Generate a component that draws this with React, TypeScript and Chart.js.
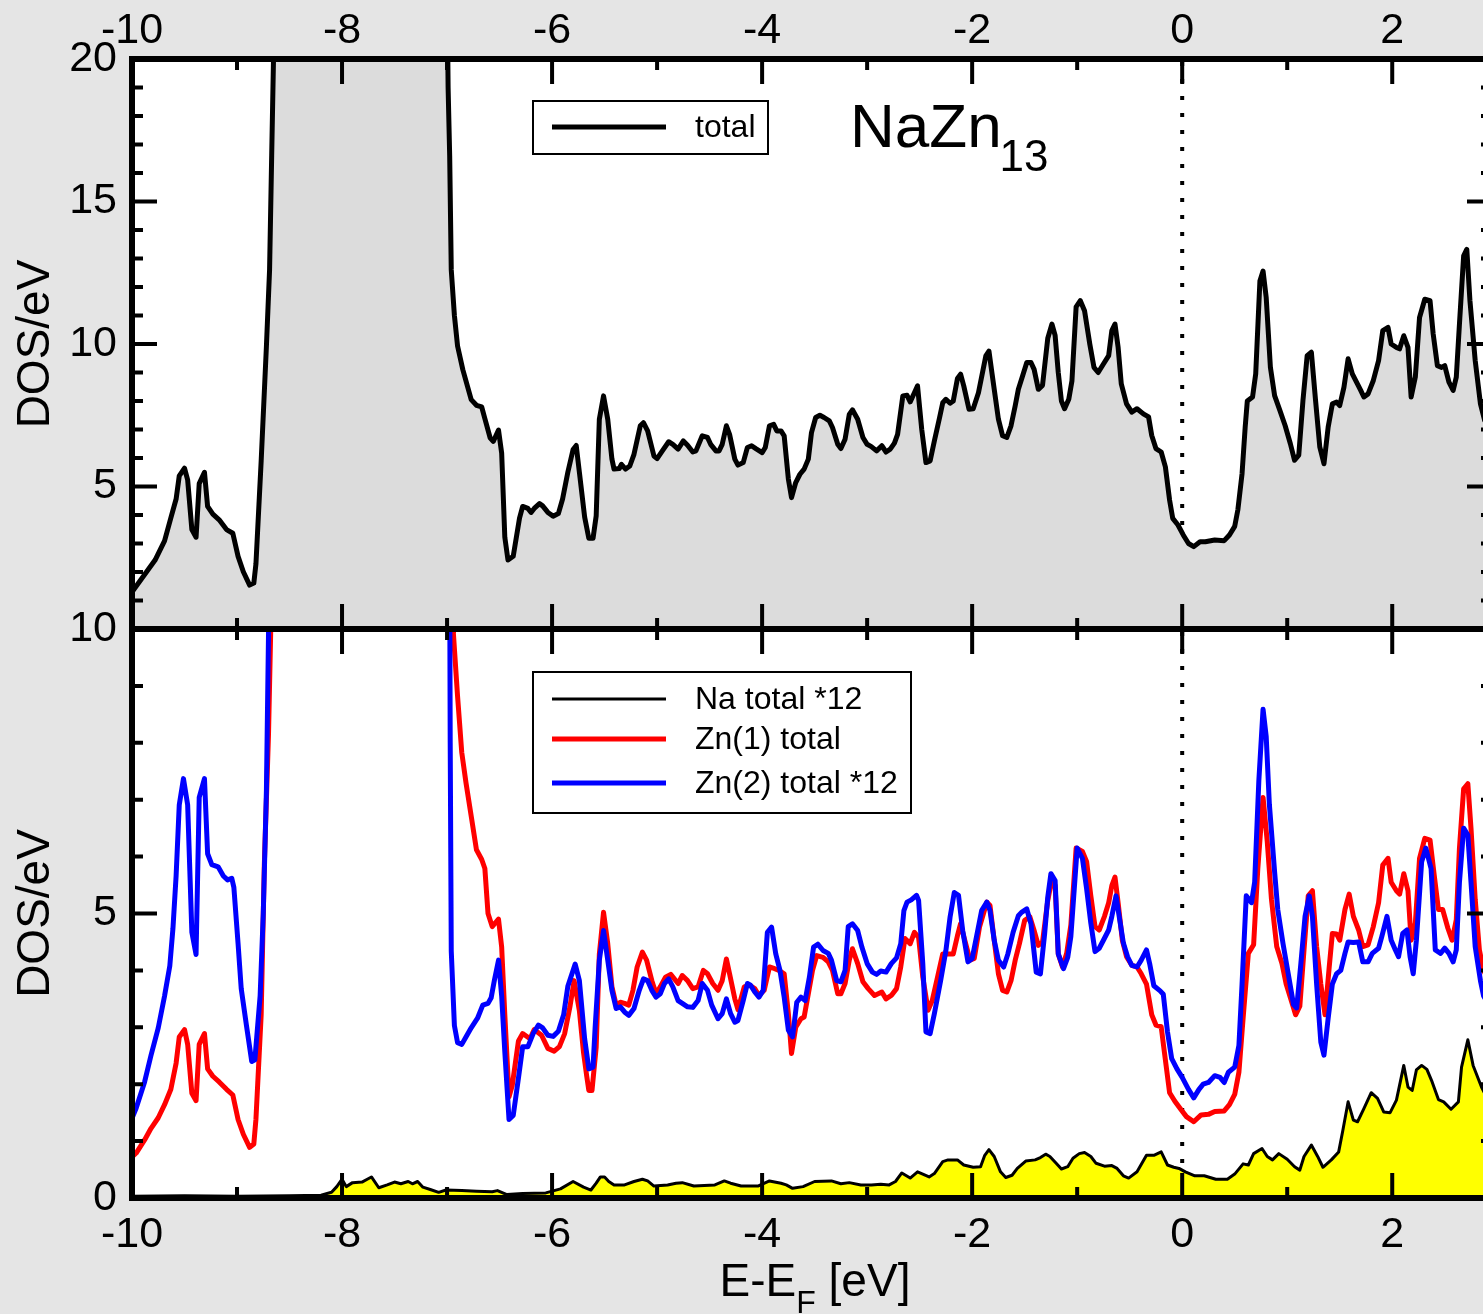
import { useEffect, useRef } from 'react';
import { Chart, registerables } from 'chart.js';

Chart.register(...registerables);

// ---------------- data ----------------
const X_MIN = -10;
const X_MAX = 2.95;
const X_STEP = 2;
const TOP_Y_MAX = 20;
const BOT_Y_MAX = 10;
const Y_STEP = 5;

const Y_TITLE = 'DOS/eV';
const SYSTEM_NAME = 'NaZn';
const SYSTEM_SUB = '13';
const X_TITLE_MAIN = 'E-E';
const X_TITLE_SUB = 'F';
const X_TITLE_UNIT = ' [eV]';

const TOTAL_LABEL = 'total';
const NA_LABEL = 'Na total *12';
const ZN1_LABEL = 'Zn(1) total';
const ZN2_LABEL = 'Zn(2) total *12';

const totalE = [
  -10, -9.78, -9.69, -9.63, -9.58, -9.55, -9.5, -9.47, -9.43, -9.39,
  -9.36, -9.31, -9.28, -9.23, -9.17, -9.1, -9.04, -8.99, -8.94, -8.88,
  -8.84, -8.82, -8.77, -8.72, -8.69, -8.67, -8.65, -8.6, -8.2, -7.8,
  -7.4, -7.02, -6.99, -6.975, -6.96, -6.93, -6.9, -6.85, -6.77, -6.72,
  -6.67, -6.64, -6.59, -6.56, -6.51, -6.48, -6.45, -6.42, -6.37, -6.31,
  -6.28, -6.23, -6.2, -6.17, -6.12, -6.09, -6.04, -5.99, -5.94, -5.9,
  -5.85, -5.8, -5.77, -5.74, -5.69, -5.65, -5.61, -5.58, -5.55, -5.51,
  -5.47, -5.43, -5.41, -5.36, -5.34, -5.3, -5.26, -5.22, -5.16, -5.13,
  -5.09, -5.03, -5, -4.95, -4.89, -4.85, -4.8, -4.75, -4.71, -4.66,
  -4.63, -4.57, -4.52, -4.49, -4.44, -4.41, -4.38, -4.34, -4.31, -4.26,
  -4.23, -4.18, -4.14, -4.1, -4.06, -4, -3.97, -3.93, -3.89, -3.86,
  -3.82, -3.79, -3.75, -3.72, -3.68, -3.64, -3.6, -3.56, -3.53, -3.49,
  -3.45, -3.41, -3.36, -3.33, -3.28, -3.25, -3.21, -3.17, -3.14, -3.09,
  -3.04, -3, -2.96, -2.91, -2.86, -2.82, -2.78, -2.74, -2.71, -2.66,
  -2.62, -2.59, -2.55, -2.52, -2.48, -2.44, -2.4, -2.36, -2.31, -2.28,
  -2.25, -2.21, -2.18, -2.14, -2.11, -2.08, -2.03, -1.99, -1.94, -1.87,
  -1.84, -1.81, -1.75, -1.71, -1.67, -1.63, -1.59, -1.56, -1.52, -1.48,
  -1.44, -1.41, -1.37, -1.33, -1.28, -1.24, -1.21, -1.18, -1.15, -1.12,
  -1.08, -1.05, -1.01, -0.97, -0.93, -0.88, -0.84, -0.8, -0.75, -0.7,
  -0.67, -0.64, -0.61, -0.58, -0.53, -0.48, -0.43, -0.37, -0.32, -0.29,
  -0.25, -0.2, -0.16, -0.12, -0.09, -0.04, 0.01, 0.06, 0.11, 0.17,
  0.22, 0.31, 0.4, 0.45, 0.5, 0.53, 0.57, 0.6, 0.62, 0.67,
  0.7, 0.74, 0.77, 0.8, 0.84, 0.88, 0.93, 0.98, 1.03, 1.07,
  1.11, 1.15, 1.19, 1.23, 1.27, 1.31, 1.35, 1.39, 1.43, 1.47,
  1.5, 1.54, 1.58, 1.62, 1.66, 1.7, 1.73, 1.77, 1.82, 1.87,
  1.91, 1.96, 1.99, 2.04, 2.07, 2.11, 2.15, 2.18, 2.22, 2.26,
  2.31, 2.36, 2.39, 2.43, 2.47, 2.5, 2.54, 2.58, 2.61, 2.64,
  2.68, 2.71, 2.74, 2.79, 2.84, 2.88, 2.95,
];
const totalDos = [
  1.3, 2.42, 3.09, 3.9, 4.56, 5.37, 5.64, 5.23, 3.49, 3.22,
  5.1, 5.5, 4.3, 4.03, 3.83, 3.49, 3.36, 2.55, 2.01, 1.54,
  1.61, 2.28, 5.9, 9.93, 12.6, 16.6, 20.5, 45, 90, 120,
  90, 30, 19, 16.6, 12.6, 11, 9.93, 9.1, 8.05, 7.85,
  7.79, 7.38, 6.71, 6.58, 6.98, 6.17, 3.22, 2.42, 2.55, 3.89,
  4.3, 4.23, 4.09, 4.23, 4.4, 4.32, 4.09, 3.96, 4.05, 4.56,
  5.5, 6.3, 6.44, 5.5, 3.93, 3.18, 3.18, 3.97, 7.36, 8.18,
  7.36, 5.96, 5.61, 5.63, 5.78, 5.61, 5.72, 6.13, 7.13, 7.24,
  6.95, 6.07, 5.98, 6.25, 6.57, 6.48, 6.31, 6.6, 6.45, 6.21,
  6.25, 6.78, 6.72, 6.48, 6.25, 6.25, 6.48, 7.13, 6.83, 5.96,
  5.75, 5.84, 6.37, 6.43, 6.33, 6.19, 6.37, 7.13, 7.18, 6.95,
  6.95, 6.78, 5.26, 4.61, 5.14, 5.43, 5.61, 5.96, 6.89, 7.42,
  7.5, 7.42, 7.3, 7.07, 6.48, 6.33, 6.66, 7.53, 7.69, 7.36,
  6.72, 6.48, 6.4, 6.25, 6.43, 6.21, 6.31, 6.52, 6.83, 8.18,
  8.2, 7.97, 8.29, 8.53, 7.0, 5.84, 5.9, 6.6, 7.42, 7.94,
  8.06, 7.92, 8.0, 8.79, 8.94, 8.53, 7.71, 7.73, 8.29, 9.58,
  9.75, 8.94, 7.36, 6.78, 6.72, 7.13, 7.83, 8.41, 8.88, 9.35,
  9.35, 9.11, 8.41, 8.55, 10.2, 10.7, 10.3, 9.0, 8.0, 7.73,
  8.06, 8.7, 11.3, 11.52, 11.17, 10.0, 9.18, 9.0, 9.3, 9.59,
  10.47, 10.7, 9.88, 8.6, 7.9, 7.61, 7.73, 7.55, 7.44, 6.79,
  6.33, 6.21, 5.69, 4.52, 3.88, 3.65, 3.3, 3.0, 2.89, 3.06,
  3.06, 3.12, 3.1, 3.3, 3.6, 4.18, 5.45, 7.09, 8.0, 8.14,
  8.95, 12.21, 12.56, 11.63, 9.18, 8.19, 7.67, 7.14, 6.5, 5.92,
  6.1, 8.02, 9.59, 9.71, 8.02, 6.39, 5.8, 7.09, 7.9, 7.96,
  7.84, 8.48, 9.48, 8.95, 8.66, 8.37, 8.14, 8.25, 8.72, 9.42,
  10.47, 10.58, 10.0, 9.88, 9.83, 10.29, 9.88, 8.14, 8.84, 10.93,
  11.57, 11.52, 10.35, 9.24, 9.18, 9.24, 8.66, 8.37, 8.84, 10.7,
  13.09, 13.32, 11.52, 9.42, 7.9, 7.32, 7.0,
];

const naE = [
  -10, -9.5, -9, -8.5, -8.2, -8.1, -8.05, -8, -7.96, -7.9,
  -7.81, -7.76, -7.72, -7.65, -7.57, -7.5, -7.44, -7.37, -7.33, -7.28,
  -7.23, -7.16, -7.08, -7.01, -6.86, -6.72, -6.57, -6.52, -6.43, -6.28,
  -6.06, -5.92, -5.8, -5.7, -5.63, -5.58, -5.54, -5.5, -5.46, -5.41,
  -5.31, -5.22, -5.14, -5.09, -5.03, -4.9, -4.82, -4.76, -4.65, -4.45,
  -4.36, -4.3, -4.2, -4.04, -3.93, -3.82, -3.77, -3.71, -3.61, -3.5,
  -3.34, -3.25, -3.17, -3.06, -2.96, -2.87, -2.79, -2.73, -2.67, -2.59,
  -2.52, -2.47, -2.41, -2.36, -2.28, -2.23, -2.14, -2.08, -1.99, -1.92,
  -1.88, -1.84, -1.79, -1.73, -1.68, -1.62, -1.57, -1.49, -1.4, -1.35,
  -1.3, -1.26, -1.2, -1.15, -1.09, -1.04, -0.98, -0.93, -0.87, -0.82,
  -0.74, -0.67, -0.62, -0.56, -0.51, -0.43, -0.34, -0.27, -0.2, -0.14,
  -0.08, -0.03, 0.03, 0.12, 0.21, 0.32, 0.43, 0.5, 0.58, 0.63,
  0.68, 0.76, 0.81, 0.86, 0.92, 1, 1.07, 1.12, 1.16, 1.23,
  1.29, 1.34, 1.42, 1.49, 1.53, 1.58, 1.63, 1.67, 1.73, 1.8,
  1.86, 1.92, 1.98, 2.04, 2.11, 2.15, 2.19, 2.23, 2.28, 2.33,
  2.38, 2.44, 2.49, 2.56, 2.63, 2.66, 2.72, 2.77, 2.85, 2.88, 2.95,
];
const naDos = [
  0.03, 0.04, 0.03, 0.04, 0.05, 0.1, 0.2, 0.33, 0.2, 0.27,
  0.28, 0.33, 0.37, 0.18, 0.23, 0.28, 0.25, 0.29, 0.25, 0.29,
  0.19, 0.15, 0.1, 0.14, 0.13, 0.12, 0.11, 0.13, 0.06, 0.08,
  0.09, 0.16, 0.29, 0.19, 0.14, 0.26, 0.37, 0.37, 0.29, 0.23,
  0.23, 0.29, 0.33, 0.3, 0.21, 0.23, 0.26, 0.27, 0.21, 0.23,
  0.3, 0.26, 0.21, 0.21, 0.3, 0.26, 0.23, 0.17, 0.2, 0.29,
  0.3, 0.25, 0.27, 0.23, 0.23, 0.24, 0.23, 0.29, 0.44, 0.35,
  0.46, 0.42, 0.37, 0.43, 0.64, 0.67, 0.67, 0.58, 0.54, 0.55,
  0.75, 0.85, 0.73, 0.46, 0.36, 0.4, 0.52, 0.65, 0.67, 0.71,
  0.77, 0.73, 0.61, 0.51, 0.55, 0.7, 0.78, 0.8, 0.73, 0.61,
  0.56, 0.57, 0.52, 0.39, 0.35, 0.46, 0.75, 0.75, 0.81, 0.58,
  0.54, 0.52, 0.46, 0.39, 0.39, 0.33, 0.33, 0.42, 0.6, 0.58,
  0.78, 0.87, 0.73, 0.67, 0.78, 0.68, 0.55, 0.49, 0.73, 0.93,
  0.73, 0.54, 0.67, 0.81, 1.19, 1.69, 1.37, 1.34, 1.57, 1.85,
  1.75, 1.51, 1.5, 1.72, 2.33, 1.95, 1.89, 2.25, 2.33, 2.26,
  2.04, 1.73, 1.69, 1.56, 1.69, 2.3, 2.78, 2.33, 1.95, 1.84, 1.6,
];

const zn1E = [
  -10, -9.96, -9.88, -9.82, -9.75, -9.69, -9.63, -9.58, -9.55, -9.5,
  -9.47, -9.43, -9.39, -9.36, -9.31, -9.28, -9.23, -9.17, -9.1, -9.04,
  -8.99, -8.94, -8.88, -8.84, -8.82, -8.77, -8.74, -8.7, -8.68, -8.65,
  -8.5, -7.8, -7.1, -6.97, -6.94, -6.9, -6.86, -6.82, -6.77, -6.72,
  -6.67, -6.64, -6.61, -6.57, -6.51, -6.48, -6.45, -6.41, -6.38, -6.32,
  -6.28, -6.21, -6.17, -6.1, -6.04, -5.98, -5.93, -5.88, -5.83, -5.79,
  -5.74, -5.7, -5.67, -5.65, -5.62, -5.58, -5.55, -5.51, -5.47, -5.43,
  -5.39, -5.35, -5.31, -5.27, -5.23, -5.19, -5.14, -5.1, -5.05, -5.01,
  -4.97, -4.92, -4.87, -4.8, -4.76, -4.71, -4.66, -4.61, -4.56, -4.52,
  -4.47, -4.42, -4.38, -4.34, -4.31, -4.26, -4.23, -4.17, -4.12, -4.07,
  -4.03, -3.98, -3.93, -3.88, -3.84, -3.79, -3.75, -3.72, -3.68, -3.63,
  -3.6, -3.56, -3.52, -3.48, -3.42, -3.37, -3.33, -3.28, -3.25, -3.21,
  -3.17, -3.14, -3.09, -3.04, -2.99, -2.93, -2.86, -2.82, -2.77, -2.72,
  -2.68, -2.64, -2.59, -2.55, -2.51, -2.47, -2.42, -2.38, -2.33, -2.28,
  -2.23, -2.18, -2.14, -2.11, -2.07, -2.02, -1.98, -1.93, -1.86, -1.83,
  -1.79, -1.75, -1.71, -1.67, -1.63, -1.59, -1.55, -1.5, -1.45, -1.41,
  -1.37, -1.33, -1.28, -1.24, -1.21, -1.18, -1.14, -1.1, -1.06, -1.01,
  -0.95, -0.91, -0.87, -0.83, -0.79, -0.74, -0.7, -0.67, -0.64, -0.61,
  -0.57, -0.53, -0.48, -0.43, -0.39, -0.34, -0.29, -0.25, -0.2, -0.17,
  -0.12, -0.07, -0.01, 0.04, 0.11, 0.18, 0.25, 0.31, 0.4, 0.45,
  0.5, 0.54, 0.58, 0.63, 0.68, 0.72, 0.77, 0.81, 0.85, 0.9,
  0.95, 0.99, 1.04, 1.08, 1.12, 1.16, 1.2, 1.24, 1.28, 1.32,
  1.36, 1.4, 1.43, 1.47, 1.5, 1.55, 1.59, 1.63, 1.68, 1.72,
  1.77, 1.82, 1.87, 1.91, 1.96, 1.99, 2.04, 2.07, 2.11, 2.15,
  2.18, 2.22, 2.26, 2.31, 2.36, 2.4, 2.44, 2.48, 2.53, 2.57,
  2.61, 2.64, 2.68, 2.72, 2.75, 2.79, 2.83, 2.87, 2.95,
];
const zn1Dos = [
  0.72, 0.79, 1.02, 1.22, 1.41, 1.64, 1.91, 2.37, 2.83, 2.96,
  2.7, 1.84, 1.71, 2.7, 2.89, 2.27, 2.14, 2.04, 1.91, 1.81,
  1.38, 1.12, 0.89, 0.95, 1.38, 3.22, 5.86, 8.16, 9.9, 13,
  25, 40, 25, 12, 9.93, 8.82, 7.83, 7.3, 6.71, 6.12,
  5.95, 5.79, 5.0, 4.77, 4.9, 4.41, 3.22, 1.78, 1.97, 2.76,
  2.89, 2.8, 2.96, 2.86, 2.63, 2.58, 2.66, 2.89, 3.36, 3.82,
  3.29, 2.55, 2.14, 1.89, 1.89, 2.65, 4.29, 5.02, 4.47, 3.71,
  3.39, 3.44, 3.42, 3.39, 3.65, 4.06, 4.32, 4.18, 3.82, 3.59,
  3.71, 3.88, 3.93, 3.77, 3.91, 3.82, 3.68, 3.71, 4.0, 3.94,
  3.77, 3.65, 3.82, 4.2, 3.94, 3.5, 3.31, 3.71, 3.74, 3.68,
  3.56, 3.65, 4.06, 4.03, 4.0, 3.94, 3.24, 2.54, 3.0, 3.15,
  3.18, 3.59, 4.0, 4.26, 4.23, 4.15, 4.0, 3.59, 3.59, 3.77,
  4.18, 4.38, 4.12, 3.8, 3.68, 3.56, 3.62, 3.5, 3.56, 3.68,
  4.06, 4.56, 4.47, 4.67, 4.58, 3.88, 3.3, 3.47, 3.88, 4.29,
  4.29, 4.29, 4.61, 4.82, 4.53, 4.18, 4.21, 4.76, 5.2, 5.14,
  4.53, 3.94, 3.65, 3.62, 3.82, 4.18, 4.47, 4.88, 4.94, 4.7,
  4.44, 4.5, 5.23, 5.61, 5.49, 4.29, 4.06, 4.3, 4.8, 6.15,
  6.09, 5.91, 5.31, 4.77, 4.71, 4.95, 5.19, 5.49, 5.64, 5.19,
  4.53, 4.24, 4.09, 4.06, 3.94, 3.76, 3.22, 3.04, 3.01, 2.57,
  1.85, 1.7, 1.55, 1.43, 1.34, 1.46, 1.47, 1.52, 1.53, 1.64,
  1.82, 2.21, 3.16, 4.3, 4.45, 5.79, 7.04, 6.26, 5.25, 4.42,
  4.12, 3.76, 3.46, 3.22, 3.37, 4.36, 5.31, 5.4, 4.42, 3.76,
  3.22, 4.06, 4.65, 4.64, 4.53, 5.07, 5.34, 4.95, 4.71, 4.42,
  4.45, 4.77, 5.19, 5.85, 5.97, 5.55, 5.4, 5.34, 5.7, 5.4,
  4.53, 4.83, 5.97, 6.32, 6.29, 5.67, 5.07, 5.07, 4.74, 4.53,
  4.89, 6.15, 7.19, 7.28, 6.5, 5.25, 4.36, 4.0, 3.7,
];

const zn2E = [
  -10, -9.96, -9.88, -9.82, -9.75, -9.69, -9.64, -9.61, -9.58, -9.55,
  -9.51, -9.47, -9.43, -9.39, -9.36, -9.31, -9.28, -9.24, -9.18, -9.13,
  -9.09, -9.05, -9.03, -8.99, -8.96, -8.91, -8.86, -8.83, -8.78, -8.75,
  -8.72, -8.7, -8.67, -8.5, -7.8, -7.1, -6.98, -6.97, -6.96, -6.93,
  -6.9, -6.86, -6.82, -6.77, -6.71, -6.66, -6.61, -6.58, -6.55, -6.51,
  -6.48, -6.45, -6.41, -6.37, -6.32, -6.28, -6.23, -6.18, -6.13, -6.09,
  -6.04, -5.99, -5.94, -5.89, -5.85, -5.78, -5.74, -5.69, -5.65, -5.61,
  -5.59, -5.55, -5.51, -5.47, -5.43, -5.39, -5.35, -5.31, -5.27, -5.22,
  -5.17, -5.13, -5.09, -5.05, -5.01, -4.97, -4.93, -4.89, -4.85, -4.8,
  -4.76, -4.71, -4.66, -4.61, -4.57, -4.52, -4.48, -4.42, -4.38, -4.34,
  -4.3, -4.26, -4.23, -4.18, -4.14, -4.11, -4.07, -4.03, -3.99, -3.95,
  -3.91, -3.87, -3.83, -3.79, -3.75, -3.71, -3.67, -3.63, -3.59, -3.55,
  -3.51, -3.47, -3.42, -3.37, -3.34, -3.29, -3.25, -3.21, -3.18, -3.14,
  -3.09, -3.05, -3, -2.95, -2.91, -2.87, -2.82, -2.77, -2.72, -2.68,
  -2.65, -2.62, -2.58, -2.53, -2.51, -2.47, -2.44, -2.4, -2.36, -2.3,
  -2.25, -2.21, -2.17, -2.13, -2.09, -2.04, -2, -1.96, -1.91, -1.86,
  -1.83, -1.79, -1.75, -1.7, -1.66, -1.61, -1.56, -1.53, -1.48, -1.44,
  -1.39, -1.35, -1.31, -1.28, -1.25, -1.21, -1.18, -1.13, -1.09, -1.06,
  -1, -0.95, -0.91, -0.87, -0.83, -0.79, -0.75, -0.7, -0.67, -0.63,
  -0.6, -0.56, -0.52, -0.48, -0.43, -0.39, -0.34, -0.31, -0.27, -0.21,
  -0.18, -0.14, -0.1, -0.05, 0, 0.06, 0.11, 0.16, 0.2, 0.25,
  0.31, 0.36, 0.4, 0.44, 0.5, 0.54, 0.57, 0.61, 0.66, 0.69,
  0.73, 0.77, 0.8, 0.83, 0.88, 0.91, 0.96, 1.01, 1.06, 1.09,
  1.13, 1.17, 1.21, 1.24, 1.28, 1.32, 1.35, 1.39, 1.43, 1.47,
  1.51, 1.55, 1.58, 1.63, 1.68, 1.72, 1.77, 1.81, 1.87, 1.9,
  1.95, 1.99, 2.03, 2.06, 2.1, 2.14, 2.17, 2.2, 2.23, 2.28,
  2.32, 2.37, 2.41, 2.46, 2.5, 2.54, 2.58, 2.61, 2.64, 2.68,
  2.72, 2.75, 2.79, 2.84, 2.87, 2.95,
];
const zn2Dos = [
  1.4, 1.58, 2.04, 2.5, 2.99, 3.55, 4.08, 4.74, 5.66, 6.91,
  7.37, 6.91, 4.67, 4.28, 7.04, 7.37, 6.05, 5.86, 5.82, 5.66,
  5.59, 5.62, 5.46, 4.47, 3.68, 3.03, 2.4, 2.43, 3.55, 5.0,
  7.17, 9.93, 14, 30, 50, 30, 14, 8, 4.34, 3.03,
  2.73, 2.7, 2.83, 2.99, 3.16, 3.39, 3.42, 3.52, 3.82, 4.18,
  3.55, 2.57, 1.38, 1.45, 2.11, 2.66, 2.66, 2.89, 3.04, 2.99,
  2.86, 2.84, 2.93, 3.22, 3.72, 4.11, 3.82, 2.8, 2.27, 2.3,
  3.0, 4.18, 4.7, 4.18, 3.65, 3.33, 3.36, 3.27, 3.21, 3.33,
  3.65, 3.85, 3.82, 3.65, 3.53, 3.59, 3.77, 3.85, 3.71, 3.47,
  3.42, 3.36, 3.35, 3.47, 3.77, 3.65, 3.39, 3.15, 3.24, 3.5,
  3.24, 3.09, 3.12, 3.47, 3.77, 3.74, 3.62, 3.53, 3.65, 4.67,
  4.76, 4.29, 4.0, 3.53, 2.95, 2.83, 3.44, 3.53, 3.47, 3.88,
  4.41, 4.46, 4.35, 4.3, 4.18, 3.82, 3.8, 4.0, 4.77, 4.82,
  4.7, 4.41, 4.12, 3.97, 3.93, 3.99, 3.97, 4.12, 4.22, 4.47,
  5.05, 5.2, 5.24, 5.32, 5.23, 4.12, 2.92, 2.89, 3.24, 3.82,
  4.35, 4.94, 5.37, 5.32, 4.7, 4.15, 4.21, 4.58, 5.05, 5.2,
  5.05, 4.53, 4.18, 4.06, 4.29, 4.67, 4.96, 5.02, 5.08, 4.82,
  3.97, 3.94, 4.64, 5.29, 5.7, 5.58, 4.29, 4.03, 4.23, 4.6,
  6.15, 5.97, 5.43, 4.83, 4.33, 4.39, 4.53, 4.71, 4.95, 5.31,
  4.95, 4.48, 4.24, 4.09, 4.06, 4.18, 4.36, 4.12, 3.73, 3.64,
  3.58, 2.92, 2.45, 2.27, 2.12, 1.91, 1.76, 1.91, 2.0, 2.03,
  2.15, 2.12, 2.03, 2.21, 2.3, 2.68, 3.76, 5.31, 5.19, 5.55,
  7.34, 8.59, 8.11, 6.92, 5.73, 5.07, 4.47, 3.94, 3.4, 3.34,
  4.12, 4.95, 5.31, 4.95, 3.76, 2.74, 2.51, 3.16, 3.76, 3.94,
  4.0, 4.3, 4.5, 4.49, 4.5, 4.15, 4.15, 4.3, 4.39, 4.59,
  4.95, 4.53, 4.36, 4.24, 4.65, 4.71, 4.24, 3.94, 4.53, 5.91,
  6.15, 5.79, 4.36, 4.3, 4.39, 4.3, 4.15, 4.36, 5.55, 6.5,
  6.38, 5.55, 4.42, 3.82, 3.55, 3.3,
];

// ---------------- styles / layout ----------------
const FONT = '"Liberation Sans", Arial, Helvetica, sans-serif';
const PAGE_BG = '#e5e5e5';
const TOTAL_FILL = '#dcdcdc';
const NA_FILL = '#ffff00';

const PAGE_W = 1483;
const PAGE_H = 1314;
const CANVAS_W = 1510;
const PLOT_LEFT = 132;
const PLOT_RIGHT = 1492;
const TOP_PLOT_TOP = 59;
const MID_Y = 629;
const BOT_PLOT_BOTTOM = 1198;

const TOP_CANVAS_TOP = 0;
const TOP_CANVAS_H = 680;
const BOT_CANVAS_TOP = 580;
const BOT_CANVAS_H = PAGE_H - BOT_CANVAS_TOP;

const TICK_FONT_SIZE = 43;

function toPoints(e: number[], v: number[]) {
  const n = Math.min(e.length, v.length);
  const out: { x: number; y: number }[] = [];
  for (let i = 0; i < n; i++) out.push({ x: e[i], y: v[i] });
  return out;
}

type LegendRow = { dataset: number; y: number };
type Deco = {
  id: string;
  yMax: number;
  offsetY: number;
  legendBox: [number, number, number, number];
  legendRows: LegendRow[];
  showTitle: boolean;
  showXTitle: boolean;
};

function panelPlugin(deco: Deco) {
  return {
    id: deco.id,
    beforeDraw(chart: any) {
      const { ctx, chartArea: a } = chart;
      ctx.save();
      ctx.fillStyle = '#ffffff';
      ctx.fillRect(a.left, a.top, a.right - a.left, a.bottom - a.top);
      ctx.restore();
    },
    beforeDatasetsDraw(chart: any) {
      const { ctx, chartArea: a } = chart;
      const px = chart.scales.x.getPixelForValue(0);
      ctx.save();
      ctx.strokeStyle = '#000';
      ctx.lineWidth = 4;
      ctx.setLineDash([4, 13]);
      ctx.beginPath();
      ctx.moveTo(px, a.top + 3);
      ctx.lineTo(px, a.bottom);
      ctx.stroke();
      ctx.restore();
    },
    afterDatasetsDraw(chart: any) {
      const { ctx, chartArea: a } = chart;
      const xs = chart.scales.x;
      const ys = chart.scales.y;
      const oy = deco.offsetY;
      ctx.save();
      // tick marks (inward) on all four sides
      ctx.strokeStyle = '#000';
      ctx.lineWidth = 4;
      ctx.beginPath();
      for (let v = Math.ceil(X_MIN); v <= X_MAX; v += 1) {
        const px = xs.getPixelForValue(v);
        const len = v % X_STEP === 0 ? 25 : 11;
        ctx.moveTo(px, a.top);
        ctx.lineTo(px, a.top + len);
        ctx.moveTo(px, a.bottom);
        ctx.lineTo(px, a.bottom - len);
      }
      for (let v = 0; v <= deco.yMax; v += 1) {
        const py = ys.getPixelForValue(v);
        const len = v % Y_STEP === 0 ? 25 : 11;
        ctx.moveTo(a.left, py);
        ctx.lineTo(a.left + len, py);
        ctx.moveTo(a.right, py);
        ctx.lineTo(a.right - len, py);
      }
      ctx.stroke();
      // frame
      ctx.lineWidth = 6;
      ctx.strokeRect(a.left, a.top, a.right - a.left, a.bottom - a.top);

      // legend
      const [x0, y0, x1, y1] = deco.legendBox;
      ctx.fillStyle = '#ffffff';
      ctx.fillRect(x0, y0 - oy, x1 - x0, y1 - y0);
      ctx.lineWidth = 2;
      ctx.strokeStyle = '#000';
      ctx.strokeRect(x0, y0 - oy, x1 - x0, y1 - y0);
      ctx.font = `32px ${FONT}`;
      ctx.textBaseline = 'middle';
      ctx.textAlign = 'left';
      for (const row of deco.legendRows) {
        const ds = chart.data.datasets[row.dataset];
        ctx.strokeStyle = ds.borderColor;
        ctx.lineWidth = ds.borderWidth;
        ctx.beginPath();
        ctx.moveTo(552, row.y - oy);
        ctx.lineTo(666, row.y - oy);
        ctx.stroke();
        ctx.fillStyle = '#000';
        ctx.fillText(ds.label, 695, row.y - oy + 1);
      }

      // compound name
      if (deco.showTitle) {
        ctx.fillStyle = '#000';
        ctx.textBaseline = 'alphabetic';
        ctx.font = `62px ${FONT}`;
        ctx.fillText(SYSTEM_NAME, 850, 147 - oy);
        const w = ctx.measureText(SYSTEM_NAME).width;
        ctx.font = `44px ${FONT}`;
        ctx.fillText(SYSTEM_SUB, 850 + w - 2, 171 - oy);
      }

      // x axis title with subscript
      if (deco.showXTitle) {
        ctx.fillStyle = '#000';
        ctx.textBaseline = 'alphabetic';
        const big = `46px ${FONT}`;
        const small = `32px ${FONT}`;
        ctx.font = big;
        const w1 = ctx.measureText(X_TITLE_MAIN).width;
        const w3 = ctx.measureText(X_TITLE_UNIT).width;
        ctx.font = small;
        const w2 = ctx.measureText(X_TITLE_SUB).width;
        const total = w1 + w2 + w3;
        const cx = (a.left + a.right) / 2 + 3;
        let x = cx - total / 2;
        const base = 1296 - oy;
        ctx.font = big;
        ctx.fillText(X_TITLE_MAIN, x, base);
        x += w1;
        ctx.font = small;
        ctx.fillText(X_TITLE_SUB, x, base + 17);
        x += w2;
        ctx.font = big;
        ctx.fillText(X_TITLE_UNIT, x, base);
      }
      ctx.restore();
    },
  };
}

function xScale(position: 'top' | 'bottom', height: number, pad: number) {
  return {
    type: 'linear',
    position,
    min: X_MIN,
    max: X_MAX,
    afterFit: (s: any) => {
      s.height = height;
    },
    grid: { display: false, drawTicks: false },
    border: { display: false },
    ticks: {
      stepSize: X_STEP,
      includeBounds: false,
      autoSkip: false,
      maxRotation: 0,
      minRotation: 0,
      padding: pad,
      color: '#000',
      font: { family: FONT, size: TICK_FONT_SIZE },
    },
  };
}

function yScale(yMax: number, hideZero: boolean) {
  return {
    type: 'linear',
    position: 'left',
    min: 0,
    max: yMax,
    afterFit: (s: any) => {
      s.width = PLOT_LEFT;
    },
    grid: { display: false, drawTicks: false },
    border: { display: false },
    ticks: {
      stepSize: Y_STEP,
      includeBounds: false,
      padding: 15,
      color: '#000',
      font: { family: FONT, size: TICK_FONT_SIZE },
      callback: (v: any) => (hideZero && Number(v) === 0 ? '' : String(v)),
    },
    title: {
      display: true,
      text: Y_TITLE,
      color: '#000',
      font: { family: FONT, size: 46 },
      padding: { top: 9, bottom: 0 },
    },
  };
}

const baseOptions = {
  responsive: false,
  maintainAspectRatio: false,
  animation: false,
  devicePixelRatio: 1,
  events: [],
  plugins: {
    legend: { display: false },
    tooltip: { enabled: false },
    title: { display: false },
  },
  elements: {
    point: { radius: 0, hoverRadius: 0 },
    line: { tension: 0, borderJoinStyle: 'round', borderCapStyle: 'butt' },
  },
};

export default function App() {
  const topRef = useRef<HTMLCanvasElement>(null);
  const botRef = useRef<HTMLCanvasElement>(null);

  useEffect(() => {
    const topChart = new Chart(topRef.current as HTMLCanvasElement, {
      type: 'line',
      data: {
        datasets: [
          {
            label: TOTAL_LABEL,
            data: toPoints(totalE, totalDos),
            borderColor: '#000000',
            borderWidth: 5,
            backgroundColor: TOTAL_FILL,
            fill: 'origin',
          },
        ],
      },
      options: {
        ...baseOptions,
        layout: {
          padding: {
            left: 0,
            top: 0,
            right: CANVAS_W - PLOT_RIGHT,
            bottom: TOP_CANVAS_H - (MID_Y - TOP_CANVAS_TOP),
          },
        },
        scales: {
          x: xScale('top', TOP_PLOT_TOP - TOP_CANVAS_TOP, 2),
          y: yScale(TOP_Y_MAX, true),
        },
      } as any,
      plugins: [
        panelPlugin({
          id: 'topPanel',
          yMax: TOP_Y_MAX,
          offsetY: TOP_CANVAS_TOP,
          legendBox: [533, 101, 768, 154],
          legendRows: [{ dataset: 0, y: 127 }],
          showTitle: true,
          showXTitle: false,
        }),
      ],
    } as any);

    const botChart = new Chart(botRef.current as HTMLCanvasElement, {
      type: 'line',
      data: {
        datasets: [
          {
            label: NA_LABEL,
            data: toPoints(naE, naDos),
            borderColor: '#000000',
            borderWidth: 3,
            backgroundColor: NA_FILL,
            fill: 'origin',
            order: 2,
          },
          {
            label: ZN1_LABEL,
            data: toPoints(zn1E, zn1Dos),
            borderColor: '#ff0000',
            borderWidth: 5,
            fill: false,
            order: 1,
          },
          {
            label: ZN2_LABEL,
            data: toPoints(zn2E, zn2Dos),
            borderColor: '#0000ff',
            borderWidth: 5,
            fill: false,
            order: 0,
          },
        ],
      },
      options: {
        ...baseOptions,
        layout: {
          padding: {
            left: 0,
            top: MID_Y - BOT_CANVAS_TOP,
            right: CANVAS_W - PLOT_RIGHT,
            bottom: 0,
          },
        },
        scales: {
          x: xScale('bottom', BOT_CANVAS_H - (BOT_PLOT_BOTTOM - BOT_CANVAS_TOP), 11),
          y: yScale(BOT_Y_MAX, false),
        },
      } as any,
      plugins: [
        panelPlugin({
          id: 'bottomPanel',
          yMax: BOT_Y_MAX,
          offsetY: BOT_CANVAS_TOP,
          legendBox: [533, 672, 911, 813],
          legendRows: [
            { dataset: 0, y: 699 },
            { dataset: 1, y: 739 },
            { dataset: 2, y: 783 },
          ],
          showTitle: false,
          showXTitle: true,
        }),
      ],
    } as any);

    return () => {
      topChart.destroy();
      botChart.destroy();
    };
  }, []);

  return (
    <div
      style={{
        position: 'absolute',
        left: 0,
        top: 0,
        width: PAGE_W,
        height: PAGE_H,
        overflow: 'hidden',
        background: PAGE_BG,
      }}
    >
      <canvas
        ref={topRef}
        width={CANVAS_W}
        height={TOP_CANVAS_H}
        style={{ position: 'absolute', left: 0, top: TOP_CANVAS_TOP, width: CANVAS_W, height: TOP_CANVAS_H }}
      />
      <canvas
        ref={botRef}
        width={CANVAS_W}
        height={BOT_CANVAS_H}
        style={{ position: 'absolute', left: 0, top: BOT_CANVAS_TOP, width: CANVAS_W, height: BOT_CANVAS_H }}
      />
    </div>
  );
}
